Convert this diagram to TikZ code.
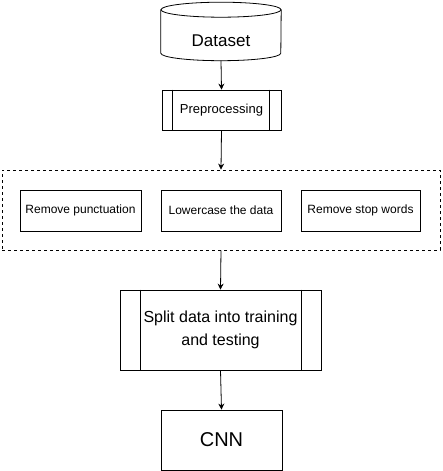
\documentclass[tikz,border=0pt]{standalone}
\usepackage{fontspec}
\setmainfont{Liberation Sans}
\usepackage{tikz}
\usetikzlibrary{arrows.meta, calc, positioning}

\tikzset{
  box/.style={draw, line width=0.8pt, align=center, inner sep=2pt},
  flow/.style={draw, line width=0.8pt, -{Stealth[length=6pt, width=6pt]}}
}

\begin{document}
\begin{tikzpicture}[x=1pt, y=1pt]
        \useasboundingbox (0,0) rectangle (442,-471);
        % Dataset cylinder
        \node[minimum width=120pt, minimum height=39pt, inner sep=0pt, font=\fontsize{17}{20}\selectfont] (dataset) at (221,-41) {Dataset};
        \draw[line width=0.8pt] ($(dataset.south)+(0,51)$) ellipse (60 and 7.5);
        \draw[line width=0.8pt] ($(dataset.south west)+(0,51)$) -- ($(dataset.south west)+(0,7.5)$)
          arc[start angle=180, end angle=360, x radius=60, y radius=7.5] -- ($(dataset.south east)+(0,51)$);
        % Preprocessing
        \node[box, minimum width=119pt, minimum height=40pt, font=\fontsize{13}{15}\selectfont] (pre) at (221.5,-110) {Preprocessing};
        \draw[line width=0.8pt] ([xshift=11pt]pre.north west) -- ([xshift=11pt]pre.south west);
        \draw[line width=0.8pt] ([xshift=-12pt]pre.north east) -- ([xshift=-12pt]pre.south east);
        % Cleaning steps
        \node[draw, dashed, line width=0.8pt, minimum width=438pt, minimum height=80pt] (clean) at (221,-210) {};
        \node[box, minimum width=121pt, minimum height=41pt, font=\fontsize{12}{14}\selectfont] (punct) at (80.5,-210.5) {Remove punctuation};
        \node[box, minimum width=120pt, minimum height=41pt, font=\fontsize{12}{14}\selectfont] (lower) at (221,-210.5) {Lowercase the data};
        \node[box, minimum width=119pt, minimum height=41pt, font=\fontsize{12}{14}\selectfont] (stop) at (360.5,-210.5) {Remove stop words};
        % Split and CNN
        \node[box, minimum width=201pt, minimum height=80pt, font=\fontsize{16}{23}\selectfont] (split) at (220.5,-330) {Split data into training\\and testing};
        \draw[line width=0.8pt] ([xshift=21pt]split.north west) -- ([xshift=21pt]split.south west);
        \draw[line width=0.8pt] ([xshift=-20pt]split.north east) -- ([xshift=-20pt]split.south east);
        \node[box, minimum width=121pt, minimum height=60pt, font=\fontsize{20}{24}\selectfont] (cnn) at (221.5,-440) {CNN};
        % Arrows
        \draw[flow] (dataset.south) -- (pre.north);
        \draw[flow] (pre.south) -- (clean.north);
        \draw[flow] (clean.south) -- (split.north);
        \draw[flow] (split.south) -- (cnn.north);
      \end{tikzpicture}
\end{document}
